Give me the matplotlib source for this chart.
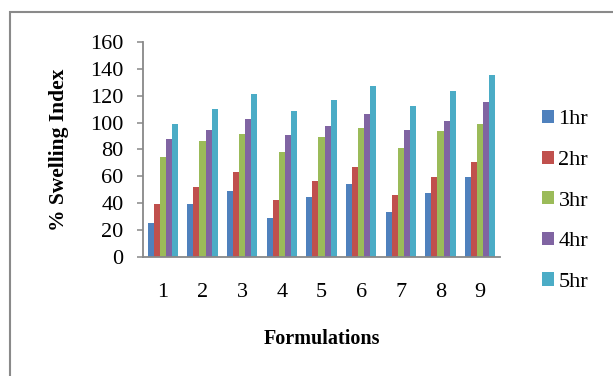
import numpy as np
import matplotlib.pyplot as plt
from matplotlib.patches import Rectangle

plt.rcParams['font.family'] = ['Liberation Serif', 'DejaVu Serif']

formulations = ['1', '2', '3', '4', '5', '6', '7', '8', '9']
hr1 = [25.4, 39.8, 49.3, 28.9, 44.3, 54.3, 33.4, 47.5, 59.3]
hr2 = [39.6, 52.0, 63.5, 42.3, 56.5, 66.7, 46.0, 59.5, 70.4]
hr3 = [74.2, 86.6, 91.6, 77.9, 89.3, 95.8, 81.1, 93.6, 99.0]
hr4 = [87.6, 94.5, 102.8, 90.6, 97.8, 106.5, 94.5, 101.0, 115.4]
hr5 = [99.3, 110.4, 121.2, 108.7, 116.9, 127.4, 112.5, 123.7, 135.8]
series = [hr1, hr2, hr3, hr4, hr5]
labels = ['1hr', '2hr', '3hr', '4hr', '5hr']
colors = ['#4F81BD', '#C0504D', '#9BBB59', '#8064A2', '#4BACC6']

fig = plt.figure(figsize=(6.13, 3.76), dpi=100)
ax = fig.add_axes([0.2333, 0.3165, 0.5824, 0.5718])

x = np.arange(1, len(formulations) + 1)
w = 1 / 6.5
for i, (vals, lab, c) in enumerate(zip(series, labels, colors)):
    ax.bar(x + (i - 2) * w, vals, width=w, color=c, label=lab, edgecolor='none')

ax.set_xlim(0.5, 9.5)
ax.set_ylim(0, 160)
ax.set_yticks(range(0, 161, 20))
ax.set_xticks(x)
ax.set_xticklabels(formulations)

for s in ['top', 'right']:
    ax.spines[s].set_visible(False)
for s in ['left', 'bottom']:
    ax.spines[s].set_color('#888888')
    ax.spines[s].set_linewidth(1.3)
ax.tick_params(axis='y', length=4, width=1.1, color='#888888', pad=10, labelsize=16)
ax.tick_params(axis='x', length=0, pad=19, labelsize=16)

ax.set_ylabel('% Swelling Index', fontsize=15.5, fontweight='bold', labelpad=15)
ax.set_xlabel('Formulations', fontsize=14.5, fontweight='bold', labelpad=19.5)

leg = fig.legend(loc='upper left', bbox_to_anchor=(542 / 613, 1 - 110 / 376),
                 frameon=False, fontsize=16, handlelength=0.54, handleheight=0.54,
                 handletextpad=0.2, labelspacing=0.95, borderpad=0, borderaxespad=0)

# outer chart border (runs off the right and bottom edges)
fig.patches.append(Rectangle((10 / 613, -0.1), 1.2, 1.1 - 12 / 376,
                             transform=fig.transFigure, fill=False,
                             edgecolor='#8a8a8a', linewidth=1.5))

fig.savefig('out.png', dpi=100)
